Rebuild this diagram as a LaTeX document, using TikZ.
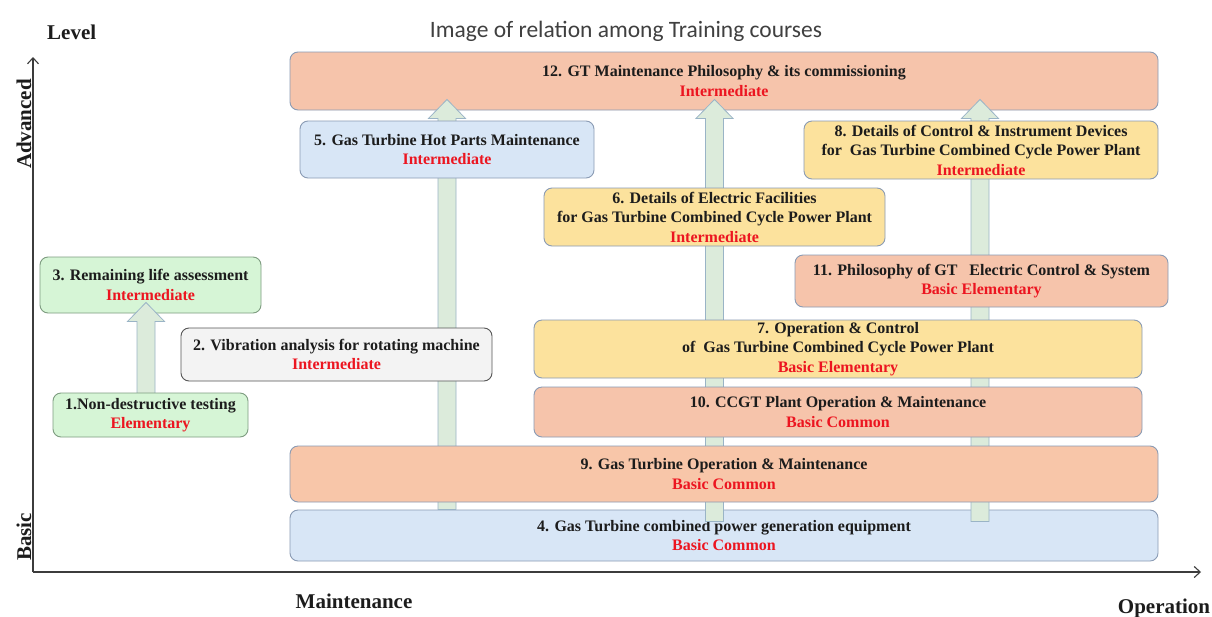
\documentclass[tikz,border=0pt]{standalone}
\usepackage{fontspec}
\setmainfont{Liberation Serif}
\newfontfamily\titlefont{Carlito}
\usetikzlibrary{calc,arrows.meta}

\definecolor{peach}{HTML}{F8C6A9}
\definecolor{rosepeach}{HTML}{F6C4AB}
\definecolor{sand}{HTML}{FCE29D}
\definecolor{skyfill}{HTML}{D8E6F6}
\definecolor{mint}{HTML}{D6F5D6}
\definecolor{paper}{HTML}{F3F3F3}
\definecolor{boxline}{HTML}{8A9BB4}
\definecolor{mintline}{HTML}{7E9C80}
\definecolor{paperline}{HTML}{555555}
\definecolor{levelred}{HTML}{EC1520}
\definecolor{shaftfill}{HTML}{DCEBDB}
\definecolor{shaftline}{HTML}{9AB4C6}
\definecolor{axisgray}{HTML}{3C3C3C}
\definecolor{inkgray}{HTML}{1C1C1C}

\newcommand\courselevel[1]{\textcolor{levelred}{#1}}

% broad upward arrow from a bottom point #1 to a tip point #2
\newcommand\broadarrow[2]{%
  \path let \p1=(#1), \p2=(#2) in [shaft]
    (\x1-9pt,\y1) -- (\x1-9pt,\y2-19pt) -- (\x1-18.5pt,\y2-19pt) -- (\x1,\y2)
    -- (\x1+18.5pt,\y2-19pt) -- (\x1+9pt,\y2-19pt) -- (\x1+9pt,\y1) -- cycle;}

\pgfdeclarelayer{canvas}
\pgfdeclarelayer{back}
\pgfdeclarelayer{arrows}
\pgfsetlayers{canvas,back,arrows,main}

\begin{document}
\begin{tikzpicture}[x=1pt,y=-1pt,
  course/.style={draw=boxline, line width=0.9pt, rounded corners=8pt,
    align=center, inner sep=0pt, text=inkgray,
    font=\rmfamily\bfseries\fontsize{16}{19.5}\selectfont},
  orangebox/.style={course, fill=peach},
  yellowbox/.style={course, fill=sand},
  bluebox/.style={course, fill=skyfill},
  greenbox/.style={course, fill=mint, draw=mintline},
  graybox/.style={course, fill=paper, draw=paperline},
  shaft/.style={draw=shaftline, fill=shaftfill, line width=0.8pt},
  axis/.style={draw=axisgray, line width=1.1pt,
    -{Straight Barb[length=6pt,width=11pt]}},
  axislabel/.style={font=\rmfamily\bfseries\fontsize{21}{24}\selectfont, text=inkgray, inner sep=0pt}]

\useasboundingbox (0,0) rectangle (1212,616);
\begin{pgfonlayer}{canvas}
\fill[white] (0,0) rectangle (1212,616);
\end{pgfonlayer}

% title
\node[font=\titlefont\fontsize{23.5}{26}\selectfont, text=black!75, anchor=base, inner sep=0pt]
  (title) at (626,37) {Image of relation among Training courses};

% axes
\coordinate (origin) at (33,572);
\coordinate (ytop) at (33,57);
\coordinate (xend) at (1201,572);
\draw[axis] (origin) -- (ytop);
\draw[axis] (origin) -- (xend);

\node[axislabel, anchor=base west] (level) at (47,39) {Level};
\node[axislabel, rotate=90, anchor=base] (adv) at (31,124) {Advanced};
\node[axislabel, rotate=90, anchor=base] (basic) at (31,537) {Basic};
\node[axislabel, anchor=base] (maint) at (354,608) {Maintenance};
\node[axislabel, anchor=base] (oper) at (1164,613) {Operation};

% boxes lying underneath the arrows
\begin{pgfonlayer}{back}
\node[orangebox, fill=rosepeach, minimum width=868pt, minimum height=58pt] (c12) at (724,81)
  {12. GT Maintenance Philosophy \& its commissioning\\\courselevel{Intermediate}};
\node[bluebox, minimum width=868pt, minimum height=51pt] (c4) at (724,535.5)
  {4. Gas Turbine combined power generation equipment\\\courselevel{Basic Common}};
\node[greenbox, minimum width=221pt, minimum height=56pt] (c3) at (150.5,285)
  {3. Remaining life assessment\\\courselevel{Intermediate}};
\end{pgfonlayer}

% boxes lying on top of the arrows
\node[bluebox, minimum width=294pt, minimum height=57pt] (c5) at (447,149.5)
  {5. Gas Turbine Hot Parts Maintenance\\\courselevel{Intermediate}};
\node[yellowbox, minimum width=354pt, minimum height=58pt] (c8) at (981,150)
  {8. Details of Control \& Instrument Devices\\for\ \ Gas Turbine Combined Cycle Power Plant\\\courselevel{Intermediate}};
\node[yellowbox, minimum width=341pt, minimum height=58pt] (c6) at (714.5,217)
  {6. Details of Electric Facilities\\for Gas Turbine Combined Cycle Power Plant\\\courselevel{Intermediate}};
\node[orangebox, fill=rosepeach, minimum width=373pt, minimum height=52pt] (c11) at (981.5,281)
  {11. Philosophy of GT\ \ \ Electric Control \& System\\\courselevel{Basic Elementary}};
\node[graybox, minimum width=311pt, minimum height=53pt] (c2) at (336.5,354.5)
  {2. Vibration analysis for rotating machine\\\courselevel{Intermediate}};
\node[yellowbox, minimum width=608pt, minimum height=58pt] (c7) at (838,349)
  {7. Operation \& Control\\of\ \ Gas Turbine Combined Cycle Power Plant\\\courselevel{Basic Elementary}};
\node[orangebox, fill=rosepeach, minimum width=608pt, minimum height=50pt] (c10) at (838,412)
  {10. CCGT Plant Operation \& Maintenance\\\courselevel{Basic Common}};
\node[greenbox, minimum width=195pt, minimum height=44pt] (c1) at (150.5,415)
  {1.Non-destructive testing\\\courselevel{Elementary}};
\node[orangebox, minimum width=868pt, minimum height=56pt] (c9) at (724,474)
  {9. Gas Turbine Operation \& Maintenance\\\courselevel{Basic Common}};

% progression arrows
\coordinate (leftfoot) at (c5.center |- c4.north);
\coordinate (lefttip) at ($(c5.center |- c12.south)+(0,-11)$);
\coordinate (midfoot) at ($(c6.center |- c4.north)+(0,12)$);
\coordinate (midtip) at ($(c6.center |- c12.south)+(0,-11)$);
\coordinate (rightfoot) at ($(c8.center |- c4.north)+(-1,12)$);
\coordinate (righttip) at ($(c8.center |- c12.south)+(-1,-11)$);
\coordinate (nfoot) at ($(c1.north)+(-4.5,4)$);
\coordinate (ntip) at ($(c1.north |- c3.south)+(-4.5,-11)$);
\begin{pgfonlayer}{arrows}
\broadarrow{leftfoot}{lefttip}
\broadarrow{midfoot}{midtip}
\broadarrow{rightfoot}{righttip}
\broadarrow{nfoot}{ntip}
\end{pgfonlayer}

\end{tikzpicture}
\end{document}
